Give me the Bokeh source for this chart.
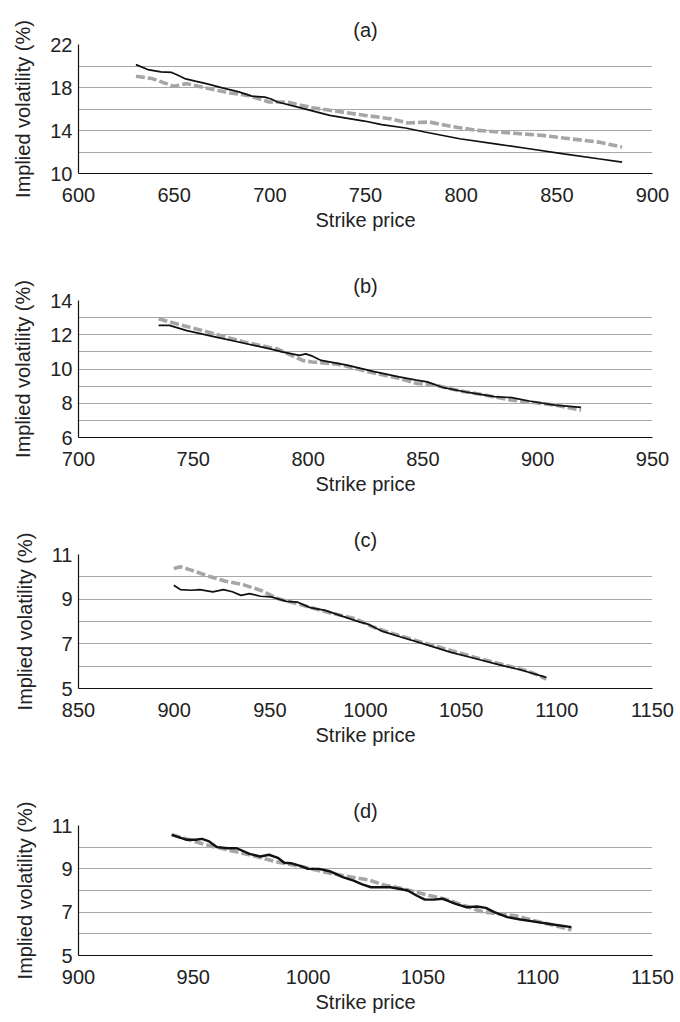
from bokeh.plotting import figure
from bokeh.layouts import column
from bokeh.models import Range1d, FixedTicker
from bokeh.embed import file_html
from bokeh.resources import INLINE

FONT = "Liberation Sans"
BLACK = "#111111"
GREY = "#a6a6a6"

# ---------------- Panel (a) ----------------
a_black_x = [630, 636.2, 643, 648.7, 652, 655.5, 661, 666.8, 674.7, 683.8, 690.6, 697.4, 700.7, 704,
             717.7, 731.3, 749.4, 758.5, 770.9, 781, 799.2, 819.6, 835.5, 853.6, 871.7, 884.1]
a_black_y = [20.13, 19.67, 19.45, 19.4, 19.14, 18.83, 18.6, 18.36, 17.99, 17.59, 17.2, 17.1, 16.93, 16.65,
             16.03, 15.41, 14.88, 14.54, 14.23, 13.86, 13.23, 12.71, 12.3, 11.83, 11.37, 11.06]
a_grey_x = [630, 638.5, 649.8, 656.6, 665.7, 679.2, 688.3, 699.6, 708.7, 722.2, 731.3, 749.4, 763, 772,
            783.4, 794.7, 808.3, 819.6, 830.9, 842.2, 853.6, 871.7, 884.1]
a_grey_y = [19.05, 18.83, 18.11, 18.36, 17.99, 17.49, 17.27, 16.65, 16.65, 16.12, 15.88, 15.41, 15.1, 14.7,
            14.79, 14.38, 14.01, 13.86, 13.7, 13.55, 13.3, 12.92, 12.46]
a_xticks = [600, 650, 700, 750, 800, 850, 900]
a_yticks = [10, 14, 18, 22]
a_ygrid = [12, 14, 16, 18, 20, 22]

# ---------------- Panel (b) ----------------
b_black_x = [734.9, 739.6, 747.2, 760.4, 771.7, 783, 788.7, 796.2, 799, 801.9, 805.7, 817, 828.3, 839.6,
             847.2, 851.9, 858.5, 869.8, 881.1, 888.7, 896.2, 907.5, 918.9]
b_black_y = [12.55, 12.55, 12.24, 11.85, 11.52, 11.19, 11.0, 10.8, 10.88, 10.75, 10.5, 10.23, 9.86, 9.54,
             9.35, 9.25, 8.93, 8.63, 8.39, 8.33, 8.13, 7.89, 7.76]
b_grey_x = [734.9, 741.5, 756.6, 771.7, 786.8, 798.1, 801.9, 813.2, 824.5, 839.6, 847.2, 854.7, 866,
            877.4, 888.7, 896.2, 907.5, 918.9]
b_grey_y = [12.93, 12.68, 12.15, 11.59, 11.16, 10.48, 10.41, 10.28, 9.89, 9.45, 9.16, 9.08, 8.72,
            8.47, 8.18, 8.08, 7.89, 7.6]
b_xticks = [700, 750, 800, 850, 900, 950]
b_yticks = [6, 8, 10, 12, 14]
b_ygrid = [7, 8, 9, 10, 11, 12, 13, 14]

# ---------------- Panel (c) ----------------
c_black_x = [899.8, 903.2, 908.9, 913.4, 920.2, 925.8, 930.4, 934.9, 939.4, 945.1, 950.7, 958.7, 964.3,
             971.1, 979, 988.1, 997.2, 1001.7, 1008.5, 1019.8, 1033.4, 1044.7, 1058.3, 1069.6, 1080.9, 1094.5]
c_black_y = [9.62, 9.43, 9.4, 9.43, 9.33, 9.43, 9.33, 9.17, 9.25, 9.13, 9.1, 8.9, 8.87,
             8.62, 8.5, 8.23, 7.97, 7.87, 7.57, 7.27, 6.92, 6.62, 6.32, 6.07, 5.84, 5.5]
c_grey_x = [899.8, 903.2, 908.9, 918, 927, 936, 945.1, 954.2, 967.7, 981.3, 994.9, 1003.9, 1017.5,
            1031, 1044.6, 1058.2, 1071.8, 1085.4, 1094.5]
c_grey_y = [10.37, 10.45, 10.3, 10.03, 9.8, 9.65, 9.4, 9.02, 8.72, 8.39, 8.12, 7.75, 7.37,
            7.03, 6.7, 6.37, 6.07, 5.77, 5.42]
c_xticks = [850, 900, 950, 1000, 1050, 1100, 1150]
c_yticks = [5, 7, 9, 11]
c_ygrid = [6, 7, 8, 9, 10, 11]

# ---------------- Panel (d) ----------------
d_black_x = [940.6, 947.2, 951, 953.8, 956.6, 960.4, 965.1, 968.9, 974.5, 979.2, 983, 986.8, 989.6, 992.5,
             996.2, 1000, 1004.7, 1009.4, 1015.1, 1019.8, 1023.6, 1027.4, 1031.1, 1035.8, 1039.6, 1043.4,
             1047.2, 1050.9, 1054.7, 1058.5, 1064.2, 1068.9, 1073.6, 1077.4, 1081.1, 1086.8, 1092.5, 1100,
             1107.5, 1114.7]
d_black_y = [10.57, 10.34, 10.34, 10.38, 10.28, 10.0, 9.95, 9.95, 9.69, 9.57, 9.65, 9.51, 9.28, 9.26,
             9.15, 9.0, 9.0, 8.89, 8.62, 8.46, 8.28, 8.15, 8.15, 8.15, 8.08, 8.0,
             7.77, 7.58, 7.58, 7.62, 7.38, 7.23, 7.26, 7.2, 7.0, 6.77, 6.66, 6.54,
             6.42, 6.31]
d_grey_x = [940.6, 949.1, 956.6, 966, 975.5, 986.8, 998.1, 1009.4, 1018.9, 1026.4, 1032.1, 1041.5, 1047.2,
            1052.8, 1060.4, 1067.9, 1075.5, 1083, 1089.6, 1098.1, 1107.5, 1114.7]
d_grey_y = [10.58, 10.31, 10.08, 9.85, 9.62, 9.31, 9.08, 8.8, 8.62, 8.49, 8.28, 8.08, 7.92,
            7.77, 7.58, 7.31, 7.03, 6.92, 6.85, 6.62, 6.38, 6.18]
d_xticks = [900, 950, 1000, 1050, 1100, 1150]
d_yticks = [5, 7, 9, 11]
d_ygrid = [6, 7, 8, 9, 10, 11]


def make_panel(title, bx, by, gx, gy, xticks, yticks, ygrid, height, top, bottom, black_w):
    p = figure(width=680, height=height, title=title,
               x_range=Range1d(xticks[0], xticks[-1]), y_range=Range1d(yticks[0], yticks[-1]),
               output_backend="svg", toolbar_location=None, tools="",
               min_border_left=78, min_border_right=28, min_border_top=top, min_border_bottom=bottom)
    p.outline_line_color = None
    p.background_fill_color = "white"
    p.border_fill_color = "white"

    p.title.align = "center"
    p.title.text_font = FONT
    p.title.text_font_size = "20px"
    p.title.text_font_style = "normal"
    p.title.text_color = "#222222"
    p.title.standoff = 8

    p.xgrid.visible = False
    p.ygrid.ticker = FixedTicker(ticks=ygrid)
    p.ygrid.grid_line_color = "#a8a8a8"
    p.ygrid.grid_line_width = 1

    for ax in (p.xaxis[0], p.yaxis[0]):
        ax.axis_line_color = "#111111"
        ax.axis_line_width = 1.2
        ax.major_tick_out = 0
        ax.major_tick_in = 0
        ax.minor_tick_out = 0
        ax.minor_tick_in = 0
        ax.major_label_text_font = FONT
        ax.major_label_text_font_size = "20px"
        ax.major_label_text_color = "#222222"
        ax.axis_label_text_font = FONT
        ax.axis_label_text_font_size = "20px"
        ax.axis_label_text_font_style = "normal"
        ax.axis_label_text_color = "#222222"

    p.xaxis.ticker = FixedTicker(ticks=xticks)
    p.yaxis.ticker = FixedTicker(ticks=yticks)
    p.xaxis.axis_label = "Strike price"
    p.yaxis.axis_label = "Implied volatility (%)"
    p.xaxis.major_label_standoff = 14
    p.xaxis.axis_label_standoff = 4
    p.yaxis.major_label_standoff = 6
    p.yaxis.axis_label_standoff = 13

    p.line(gx, gy, line_color=GREY, line_width=3.6, line_dash="9 3")
    p.line(bx, by, line_color=BLACK, line_width=black_w)
    return p


pa = make_panel("(a)", a_black_x, a_black_y, a_grey_x, a_grey_y, a_xticks, a_yticks, a_ygrid,
                256, 44, 83, 1.7)
pb = make_panel("(b)", b_black_x, b_black_y, b_grey_x, b_grey_y, b_xticks, b_yticks, b_ygrid,
                254, 44, 73, 1.7)
pc = make_panel("(c)", c_black_x, c_black_y, c_grey_x, c_grey_y, c_xticks, c_yticks, c_ygrid,
                270, 44, 92, 1.7)
pd = make_panel("(d)", d_black_x, d_black_y, d_grey_x, d_grey_y, d_xticks, d_yticks, d_ygrid,
                242, 45, 67, 2.4)

layout = column(pa, pb, pc, pd, spacing=0)
open("out.html", "w").write(file_html(layout, INLINE))
